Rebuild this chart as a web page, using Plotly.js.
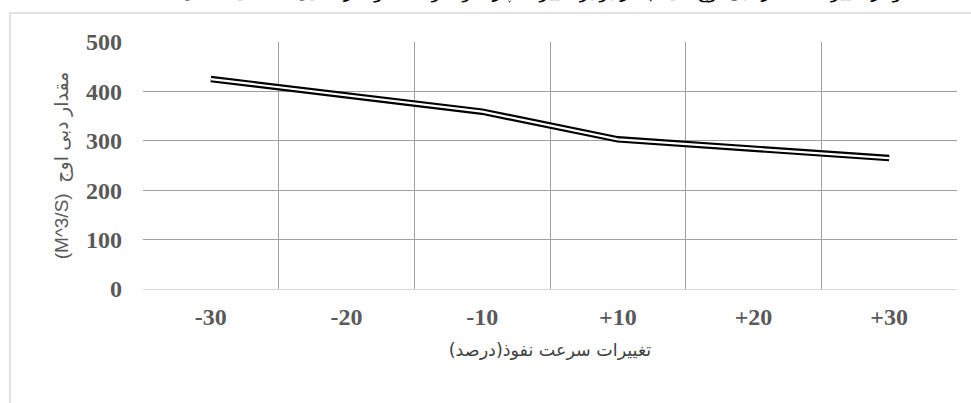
<!DOCTYPE html>
<html>
<head>
<meta charset="utf-8">
<script src="https://cdn.plot.ly/plotly-3.0.1.min.js"></script>
<style>html,body{margin:0;padding:0;background:#fff;}#chart{width:971px;height:403px;}</style>
</head>
<body>
<div id="chart"></div>
<script>
const categories = ["-30", "-20", "-10", "+10", "+20", "+30"];
const peakFlow = [425, 392, 359, 303, 284, 265];
const yTickValues = [0, 100, 200, 300, 400, 500];
const chartTitle = "نمودار تغییرات مقدار دبی اوج سیلاب در برابر تغییرات پارامتر سرعت نفوذ در تحلیل حساسیت مدل";
const xTitle = "تغییرات سرعت نفوذ(درصد)";
const yTitle = "(M^3/S)  مقدار دبی اوج";

const outer = {
  x: categories, y: peakFlow, type: "scatter", mode: "lines",
  line: {color: "#000000", width: 6.5}, hoverinfo: "skip", showlegend: false
};
const inner = {
  x: categories, y: peakFlow, type: "scatter", mode: "lines",
  line: {color: "#ffffff", width: 2.2}, hoverinfo: "skip", showlegend: false
};

const tickFont = {family: "Liberation Serif, Times New Roman, serif", size: 24, color: "#595959", weight: "bold"};

const layout = {
  width: 971, height: 403,
  margin: {l: 143, r: 14, t: 42, b: 114},
  paper_bgcolor: "#ffffff", plot_bgcolor: "#ffffff",
  showlegend: false,
  xaxis: {
    type: "category", tickson: "boundaries", range: [-0.5, 5.5],
    showgrid: true, gridcolor: "#a0a0a0", gridwidth: 1,
    showline: true, linecolor: "#d9d9d9", linewidth: 1,
    ticks: "", tickfont: tickFont, ticklabelstandoff: 6,
    title: {text: xTitle, font: {family: "DejaVu Sans, sans-serif", size: 17.5, color: "#404040"}, standoff: 14}
  },
  yaxis: {
    range: [0, 500], tickvals: yTickValues, ticktext: yTickValues.map(String),
    showgrid: true, gridcolor: "#a0a0a0", gridwidth: 1,
    zeroline: false, showline: false, ticks: "",
    tickfont: tickFont, ticklabelstandoff: 20,
    title: {text: yTitle, font: {family: "Liberation Sans, DejaVu Sans, sans-serif", size: 19, color: "#595959"}, standoff: 12}
  },
  shapes: [{
    type: "rect", xref: "paper", yref: "paper",
    x0: -0.1634, x1: 1.2, y0: -1.0, y1: 1.117,
    line: {color: "#d9d9d9", width: 1.5}, fillcolor: "rgba(0,0,0,0)", layer: "below"
  }],
  annotations: [{
    text: chartTitle, xref: "paper", yref: "paper", x: 0.5, y: 1.15,
    xanchor: "center", yanchor: "bottom", showarrow: false,
    font: {family: "DejaVu Sans, sans-serif", size: 18, color: "#000000"}
  }]
};

Plotly.newPlot("chart", [outer, inner], layout, {staticPlot: true, displayModeBar: false});
</script>
</body>
</html>
